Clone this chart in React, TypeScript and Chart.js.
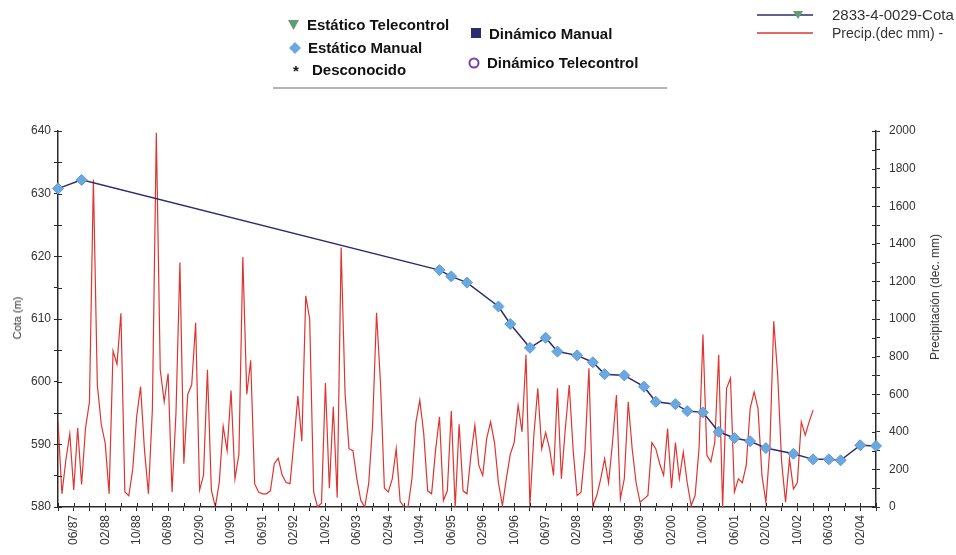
import React, { useEffect, useRef } from 'react';
import { Chart, registerables } from 'chart.js';

Chart.register(...registerables);

// ---- Data ----
const AXIS_START = '1987-02';
const AXIS_END = '2004-06';

const cotaDates = [
  '1987-02', '1987-08', '1995-03', '1995-06', '1995-10', '1996-06', '1996-09',
  '1997-02', '1997-06', '1997-09', '1998-02', '1998-06', '1998-09', '1999-02',
  '1999-07', '1999-10', '2000-03', '2000-06', '2000-10', '2001-02', '2001-06',
  '2001-10', '2002-02', '2002-09', '2003-02', '2003-06', '2003-09', '2004-02', '2004-06',
];
const cotaValues = [
  630.8, 632.2, 617.8, 616.8, 615.8, 612.0, 609.2,
  605.4, 607.0, 604.8, 604.2, 603.1, 601.2, 601.0,
  599.2, 596.8, 596.4, 595.3, 595.1, 592.0, 591.0,
  590.5, 589.4, 588.5, 587.6, 587.6, 587.45, 589.85, 589.75,
];

const precipStart = '1987-02';
const precipValues = [
  450, 70, 250, 390, 90, 420, 120, 420, 560, 1740,
  650, 440, 340, 70, 830, 760, 1030, 80, 60, 200,
  480, 640, 300, 70, 520, 1990, 730, 560, 710, 80,
  500, 1300, 230, 600, 650, 980, 90, 170, 730, 90,
  0, 130, 430, 300, 620, 150, 280, 1330, 600, 780,
  124, 80, 70, 70, 86, 230, 260, 170, 130, 124,
  350, 590, 350, 1123, 1000, 80, 0, 20, 660, 100,
  533, 50, 1380, 600, 310, 300, 150, 35, 0, 124,
  440, 1033, 660, 100, 80, 150, 310, 30, 0, 0,
  150, 450, 569, 390, 86, 70, 300, 480, 35, 86,
  510, 0, 440, 86, 70, 275, 435, 221, 168, 364,
  453, 343, 129, 7, 150, 280, 343, 540, 400, 810,
  7, 382, 631, 310, 396, 310, 168, 631, 150, 417,
  649, 300, 61, 79, 300, 738, 7, 61, 150, 257,
  129, 343, 596, 43, 150, 560, 310, 129, 25, 43,
  61, 343, 310, 230, 168, 417, 100, 343, 150, 292,
  129, 7, 61, 310, 917, 275, 240, 343, 810, 0,
  631, 685, 79, 150, 129, 221, 524, 613, 524, 168,
  25, 310, 988, 703, 240, 25, 257, 96, 129, 453,
  382, 453, 515,
];

const cotaMin = 580;
const cotaMax = 640;
const cotaTickStep = 5;
const cotaLabelStep = 10;
const precipMin = 0;
const precipMax = 2000;
const precipTickStep = 100;
const precipLabelStep = 200;
const xTickStepMonths = 4;
const xLabelStepMonths = 8;
const xFirstLabel = '1987-06';

const legendItems = ['Estático Telecontrol', 'Estático Manual', 'Desconocido', 'Dinámico Manual', 'Dinámico Telecontrol'];
const seriesNames = ['2833-4-0029-Cota', 'Precip.(dec mm) - '];
const yTitle = 'Cota (m)';
const y1Title = 'Precipitación (dec. mm)';

// ---- Helpers ----
const parseYM = (s: string) => {
  const [y, m] = s.split('-').map(Number);
  return y * 12 + (m - 1);
};
const base = parseYM(AXIS_START);
const monthIdx = (s: string) => parseYM(s) - base;
const monthLabel = (idx: number) => {
  const abs = base + idx;
  const y = Math.floor(abs / 12);
  const m = (abs % 12) + 1;
  return String(m).padStart(2, '0') + '/' + String(y % 100).padStart(2, '0');
};

const AXIS_COLOR = '#2a2a2a';
const TICK_COLOR = '#333';
const NAVY = '#2c2c6e';
const RED = '#df3530';
const BLUE = '#6aa8df';
const FONT = "'Liberation Sans', Arial, sans-serif";

const crossTicks = {
  id: 'crossTicks',
  afterDraw(chart: any) {
    const { ctx, chartArea, scales } = chart;
    ctx.save();
    ctx.strokeStyle = AXIS_COLOR;
    ctx.lineWidth = 1;
    ctx.beginPath();
    scales.x.ticks.forEach((t: any) => {
      const px = Math.round(scales.x.getPixelForValue(t.value)) + 0.5;
      ctx.moveTo(px, chartArea.bottom);
      ctx.lineTo(px, chartArea.bottom - 4);
    });
    scales.y.ticks.forEach((t: any) => {
      const py = Math.round(scales.y.getPixelForValue(t.value)) + 0.5;
      ctx.moveTo(chartArea.left, py);
      ctx.lineTo(chartArea.left + 4, py);
    });
    scales.y1.ticks.forEach((t: any) => {
      const py = Math.round(scales.y1.getPixelForValue(t.value)) + 0.5;
      ctx.moveTo(chartArea.right, py);
      ctx.lineTo(chartArea.right - 4, py);
    });
    ctx.stroke();
    ctx.restore();
  },
};

export default function App() {
  const canvasRef = useRef<HTMLCanvasElement | null>(null);

  useEffect(() => {
    if (!canvasRef.current) return;
    const firstLabel = monthIdx(xFirstLabel);
    const chart = new Chart(canvasRef.current, {
      type: 'line',
      data: {
        datasets: [
          {
            label: seriesNames[0],
            data: cotaDates.map((d, i) => ({ x: monthIdx(d), y: cotaValues[i] })),
            yAxisID: 'y',
            borderColor: NAVY,
            borderWidth: 1.5,
            pointStyle: 'rectRot',
            pointRadius: 5.5,
            pointBackgroundColor: BLUE,
            pointBorderColor: '#5b9ad8',
            pointBorderWidth: 1,
            tension: 0,
            clip: false as any,
          },
          {
            label: seriesNames[1],
            data: precipValues.map((v, i) => ({ x: monthIdx(precipStart) + i, y: v })),
            yAxisID: 'y1',
            borderColor: RED,
            borderWidth: 1.2,
            pointRadius: 0,
            tension: 0,
          },
        ],
      },
      options: {
        animation: false,
        responsive: false,
        devicePixelRatio: 1,
        layout: { padding: { top: 131, left: 0, right: 0, bottom: 0 } },
        plugins: {
          legend: { display: false },
          tooltip: { enabled: false },
        },
        scales: {
          x: {
            type: 'linear',
            min: 0,
            max: monthIdx(AXIS_END),
            afterFit: (s: any) => { s.height = 48; },
            ticks: {
              stepSize: xTickStepMonths,
              autoSkip: false,
              maxRotation: 90,
              minRotation: 90,
              padding: 4,
              color: TICK_COLOR,
              font: { family: FONT, size: 12 },
              callback: (v: any) => ((v - firstLabel) % xLabelStepMonths === 0 ? monthLabel(v) : ''),
            },
            grid: { display: true, drawOnChartArea: false, drawTicks: true, tickLength: 4, color: AXIS_COLOR },
            border: { display: true, color: AXIS_COLOR, width: 1.5 },
          },
          y: {
            type: 'linear',
            position: 'left',
            min: cotaMin,
            max: cotaMax,
            afterFit: (s: any) => { s.width = 58; },
            ticks: {
              stepSize: cotaTickStep,
              padding: 3,
              color: TICK_COLOR,
              font: { family: FONT, size: 12 },
              callback: (v: any) => (v % cotaLabelStep === 0 ? String(v) : ''),
            },
            grid: { display: true, drawOnChartArea: false, drawTicks: true, tickLength: 4, color: AXIS_COLOR },
            border: { display: true, color: AXIS_COLOR, width: 1.5 },
          },
          y1: {
            type: 'linear',
            position: 'right',
            min: precipMin,
            max: precipMax,
            afterFit: (s: any) => { s.width = 80; },
            ticks: {
              stepSize: precipTickStep,
              padding: 9,
              color: TICK_COLOR,
              font: { family: FONT, size: 12 },
              callback: (v: any) => (v % precipLabelStep === 0 ? String(v) : ''),
            },
            grid: { display: true, drawOnChartArea: false, drawTicks: true, tickLength: 4, color: AXIS_COLOR },
            border: { display: true, color: AXIS_COLOR, width: 1.5 },
          },
        },
      },
      plugins: [crossTicks],
    } as any);
    return () => chart.destroy();
  }, []);

  const legText: React.CSSProperties = {
    position: 'absolute', fontFamily: FONT, fontWeight: 'bold', fontSize: 15,
    color: '#111', lineHeight: '16px', whiteSpace: 'nowrap',
  };
  const abs = (l: number, t: number): React.CSSProperties => ({ position: 'absolute', left: l, top: t });

  return (
    <div style={{ position: 'fixed', left: 0, top: 0, width: 956, height: 555, background: '#fff', overflow: 'hidden' }}>
      <canvas ref={canvasRef} width={956} height={555} style={{ position: 'absolute', left: 0, top: 0, width: 956, height: 555 }} />

      {/* symbol legend box */}
      <div style={{ position: 'absolute', left: 273, top: 4, width: 394, height: 83, borderBottom: '2px solid #b4b4b4' }} />
      <svg style={abs(288, 20)} width="11" height="10"><polygon points="0,0 11,0 5.5,10" fill="#5f9c72" /></svg>
      <div style={{ ...legText, left: 307, top: 17 }}>{legendItems[0]}</div>
      <svg style={abs(289, 42)} width="12" height="12"><polygon points="6,0 12,6 6,12 0,6" fill={BLUE} /></svg>
      <div style={{ ...legText, left: 308, top: 40 }}>{legendItems[1]}</div>
      <div style={{ ...legText, left: 293, top: 63, fontSize: 15 }}>*</div>
      <div style={{ ...legText, left: 312, top: 62 }}>{legendItems[2]}</div>
      <svg style={abs(471, 28)} width="10" height="10"><rect x="0" y="0" width="10" height="10" fill={NAVY} /></svg>
      <div style={{ ...legText, left: 489, top: 26 }}>{legendItems[3]}</div>
      <svg style={abs(468, 57)} width="12" height="12"><circle cx="6" cy="6" r="4.5" fill="none" stroke="#7b3fae" strokeWidth="2" /></svg>
      <div style={{ ...legText, left: 487, top: 55 }}>{legendItems[4]}</div>

      {/* series legend top-right */}
      <svg style={abs(755, 8)} width="60" height="32">
        <line x1="2" y1="7" x2="58" y2="7" stroke={NAVY} strokeWidth="1.5" />
        <polygon points="38,3 48,3 43,11" fill="#5f9c72" />
        <line x1="2" y1="25" x2="58" y2="25" stroke={RED} strokeWidth="1.4" />
      </svg>
      <div style={{ position: 'absolute', left: 832, top: 7, fontFamily: FONT, fontSize: 15, color: '#333', whiteSpace: 'nowrap', lineHeight: '16px' }}>{seriesNames[0]}</div>
      <div style={{ position: 'absolute', left: 832, top: 25, fontFamily: FONT, fontSize: 14, color: '#333', whiteSpace: 'nowrap', lineHeight: '16px' }}>{seriesNames[1]}</div>

      {/* axis titles */}
      <div style={{ position: 'absolute', left: 17, top: 318, transform: 'translate(-50%, -50%) rotate(-90deg)', fontFamily: FONT, fontSize: 11, color: '#333', whiteSpace: 'nowrap' }}>{yTitle}</div>
      <div style={{ position: 'absolute', left: 935, top: 297, transform: 'translate(-50%, -50%) rotate(-90deg)', fontFamily: FONT, fontSize: 12, color: '#333', whiteSpace: 'nowrap' }}>{y1Title}</div>
    </div>
  );
}
